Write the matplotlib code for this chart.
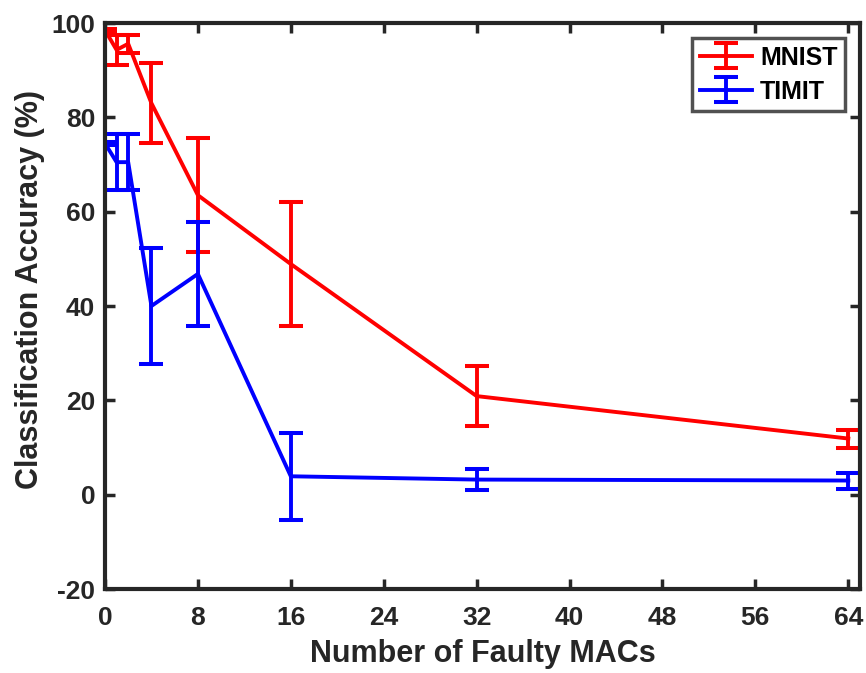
import matplotlib
matplotlib.use("Agg")
import matplotlib.pyplot as plt

plt.rcParams['font.family'] = ['Liberation Sans', 'DejaVu Sans']
plt.rcParams['font.weight'] = 'bold'
plt.rcParams['axes.unicode_minus'] = False

faulty_macs = [0, 1, 2, 4, 8, 16, 32, 64]
mnist_acc = [98.5, 94.3, 95.6, 83.0, 63.5, 48.9, 20.9, 11.9]
mnist_err = [0.3, 3.2, 1.9, 8.5, 12.1, 13.2, 6.4, 1.9]
timit_acc = [74.5, 70.5, 70.5, 40.0, 46.8, 3.9, 3.2, 3.0]
timit_err = [0.3, 6.0, 6.0, 12.3, 11.1, 9.2, 2.3, 1.7]

x_ticks = [0, 8, 16, 24, 32, 40, 48, 56, 64]
y_ticks = [-20, 0, 20, 40, 60, 80, 100]

fig = plt.figure(figsize=(8.66, 6.73), dpi=100)
ax = fig.add_axes([0.1212, 0.1248, 0.993 - 0.1212, 0.9658 - 0.1248])

ax.errorbar(faulty_macs, mnist_acc, yerr=mnist_err, color='#ff0000', lw=2.8,
            elinewidth=2.8, capsize=8.3, capthick=2.9, label='MNIST')
ax.errorbar(faulty_macs, timit_acc, yerr=timit_err, color='#0000ff', lw=2.8,
            elinewidth=2.8, capsize=8.3, capthick=2.9, label='TIMIT')

ax.set_xlim(0, 65)
ax.set_ylim(-20, 100)
ax.set_xticks(x_ticks)
ax.set_yticks(y_ticks)
ax.tick_params(direction='in', length=7, width=2.5, top=True, right=True,
               labelsize=19, colors='#262626')
ax.tick_params(axis='x', pad=12)
ax.tick_params(axis='y', pad=7)
for lbl in ax.get_xticklabels() + ax.get_yticklabels():
    lbl.set_fontweight('bold')
for s in ax.spines.values():
    s.set_linewidth(3)
    s.set_color('#262626')

ax.set_xlabel('Number of Faulty MACs', fontsize=22, fontweight='bold', color='#262626')
ax.set_ylabel('Classification Accuracy (%)', fontsize=22, fontweight='bold', color='#262626')
ax.xaxis.set_label_coords(0.5, -0.088)
ax.yaxis.set_label_coords(-0.08, 0.53)

leg = ax.legend(loc='upper right', fontsize=18, frameon=True, fancybox=False,
                edgecolor='#262626', handlelength=2.1, borderaxespad=0.6,
                labelspacing=0.4, handletextpad=0.3, borderpad=0.3)
leg.get_frame().set_linewidth(2.5)
for t in leg.get_texts():
    t.set_fontweight('bold')

fig.savefig('out.png', dpi=100)
